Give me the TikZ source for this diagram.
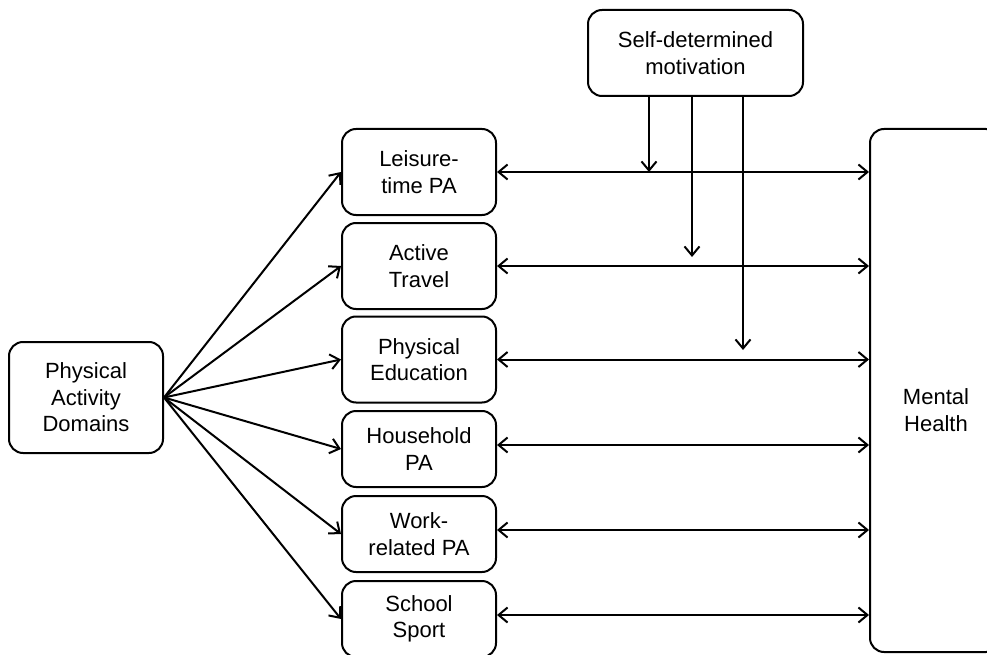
\documentclass[tikz,border=0pt]{standalone}
\usepackage{fontspec}
\setmainfont{Liberation Sans}
\usetikzlibrary{arrows.meta}
\begin{document}
\begin{tikzpicture}[x=1pt,y=-1pt,
  >={Straight Barb[length=9pt,width=15pt]},
  box/.style={draw,line width=2pt,rounded corners=14pt,align=center,
    font=\fontsize{22pt}{26.5pt}\selectfont,inner sep=0pt},
  pabox/.style={box,minimum width=154pt},
  conn/.style={line width=2pt},
  txt/.style={align=center,font=\fontsize{22pt}{26.5pt}\selectfont,inner sep=0pt}]
\useasboundingbox (0,0) rectangle (987,655);
% nodes
\node[box,minimum width=215pt,minimum height=86pt] (sdm) at (695.5,53) {Self-determined\\motivation};
\node[pabox,minimum height=111pt] (pad) at (86,397.5) {Physical\\Activity\\Domains};
\node[pabox,minimum height=86pt] (leis) at (419,172) {Leisure-\\time PA};
\node[pabox,minimum height=86pt] (act) at (419,266) {Active\\Travel};
\node[pabox,minimum height=86pt] (phys) at (419,359.5) {Physical\\Education};
\node[pabox,minimum height=76pt] (hous) at (419,449) {Household\\PA};
\node[pabox,minimum height=76pt] (work) at (419,534) {Work-\\related PA};
\node[pabox,minimum height=76pt] (school) at (419,619) {School\\Sport};
\node[box,minimum width=130pt,minimum height=523pt] (mh) at (935,390.5) {};
\node[txt] (mht) at (936,410) {Mental\\Health};
% fan arrows
\foreach \n in {leis,act,phys,hous,work,school}
  \draw[conn,->] (pad.east) -- (\n.west);
% horizontal double arrows
\coordinate (c1) at (leis.east);
\coordinate (c2) at (act.east);
\coordinate (c3) at (phys.east);
\coordinate (c4) at ([yshift=4pt]hous.east);
\coordinate (c5) at ([yshift=4pt]work.east);
\coordinate (c6) at ([yshift=4pt]school.east);
\foreach \c in {c1,c2,c3,c4,c5,c6}
  \draw[conn,<->] (\c) -- (\c -| mh.west);
% moderation arrows
\coordinate (m1) at (649,172);
\coordinate (m2) at (692,257);
\coordinate (m3) at (743,350);
\foreach \m in {m1,m2,m3}
  \draw[conn,->] (\m |- sdm.south) -- (\m);
\end{tikzpicture}
\end{document}
